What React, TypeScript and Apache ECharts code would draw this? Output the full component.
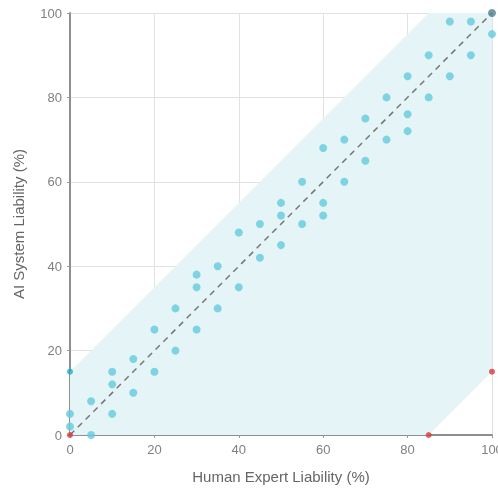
import React, { useEffect, useRef } from "react";
import * as echarts from "echarts";

const bandPolygon: number[][] = [
  [0, 0], [0, 15], [85, 100], [100, 100], [100, 15], [85, 0],
];

const diagonal: number[][] = [[0, 0], [100, 100]];

const cases: number[][] = [
  [0, 5], [0, 2], [5, 8], [5, 0], [10, 15], [10, 12], [10, 5],
  [15, 18], [15, 10], [20, 25], [20, 15], [25, 30], [25, 20],
  [30, 38], [30, 35], [30, 25], [35, 40], [35, 30], [40, 48], [40, 35],
  [45, 50], [45, 42], [50, 55], [50, 52], [50, 45], [55, 60], [55, 50],
  [60, 68], [60, 55], [60, 52], [65, 70], [65, 60], [70, 75], [70, 65],
  [75, 80], [75, 70], [80, 85], [80, 76], [80, 72], [85, 90], [85, 80],
  [90, 98], [90, 85], [95, 98], [95, 90], [100, 95],
];

const boundaryRed: number[][] = [[0, 0], [85, 0], [100, 15]];
const boundaryTop: number[][] = [[0, 15]];
const perfectPoint: number[][] = [[100, 100]];

const ticks = [0, 20, 40, 60, 80, 100];

export default function App() {
  const ref = useRef<HTMLDivElement>(null);
  useEffect(() => {
    if (!ref.current) return;
    const chart = echarts.init(ref.current, null, { renderer: "svg" });
    const axisCommon = {
      type: "value" as const,
      min: ticks[0],
      max: ticks[ticks.length - 1],
      interval: 20,
      axisLine: { show: true, onZero: false, lineStyle: { color: "#8f8f8f", width: 2 } },
      axisTick: { show: true, length: 3, lineStyle: { color: "#9a9a9a" } },
      axisLabel: { color: "#808080", fontSize: 13, fontFamily: "Liberation Sans" },
      splitLine: { show: true, lineStyle: { color: "#e2e2e2", width: 1 } },
      nameLocation: "middle" as const,
      nameTextStyle: { color: "#666", fontSize: 15, fontFamily: "Liberation Sans" },
    };
    chart.setOption({
      animation: false,
      grid: { left: 70, right: 6, top: 13, bottom: 53, containLabel: false, outerBoundsMode: "none" },
      xAxis: { ...axisCommon, name: "Human Expert Liability (%)", nameGap: 34 },
      yAxis: { ...axisCommon, name: "AI System Liability (%)", nameGap: 44 },
      series: [
        {
          type: "custom",
          silent: true,
          z: 1,
          data: [0],
          renderItem: (params: any, api: any) => {
            const pts = bandPolygon.map((p) => api.coord(p));
            return {
              type: "polygon",
              shape: { points: pts },
              style: { fill: "#e4f4f7" },
            };
          },
        },
        {
          type: "line",
          data: diagonal,
          symbol: "none",
          z: 2,
          lineStyle: { color: "#777", width: 1.5, type: [6, 5] },
        },
        {
          type: "scatter",
          data: cases,
          symbolSize: 8,
          z: 3,
          itemStyle: { color: "#64cbdc" },
        },
        {
          type: "scatter",
          data: boundaryTop,
          symbolSize: 6,
          z: 4,
          itemStyle: { color: "#1aaecb" },
        },
        {
          type: "scatter",
          data: perfectPoint,
          symbolSize: 8,
          z: 4,
          itemStyle: { color: "#4d7f8c" },
        },
        {
          type: "scatter",
          data: boundaryRed,
          symbolSize: 6,
          z: 5,
          itemStyle: { color: "#d93a3b" },
        },
      ],
    });
    return () => chart.dispose();
  }, []);
  return <div ref={ref} style={{ width: 498, height: 488, position: "fixed", left: 0, top: 0 }} />;
}
